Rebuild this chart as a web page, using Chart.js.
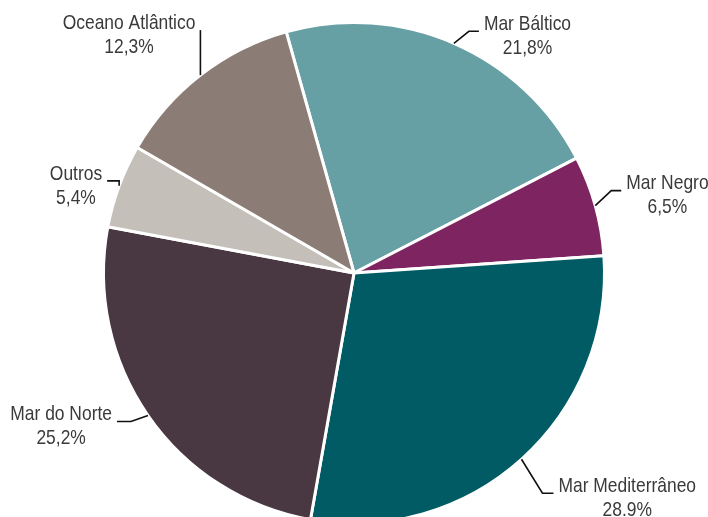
<!DOCTYPE html>
<html>
<head>
<meta charset="utf-8">
<script src="https://cdn.jsdelivr.net/npm/chart.js@4/dist/chart.umd.min.js"></script>
<style>
  html, body { margin: 0; padding: 0; background: #ffffff; overflow: hidden; }
  #wrap { width: 708px; height: 517px; overflow: hidden; }
  canvas { display: block; }
</style>
</head>
<body>
<div id="wrap"><canvas id="pie" width="708" height="540"></canvas></div>
<script>
// Share by sea basin (%), clockwise from the top
const categories = ['Mar Báltico', 'Mar Negro', 'Mar Mediterrâneo', 'Mar do Norte', 'Outros', 'Oceano Atlântico'];
const shares = [21.8, 6.5, 28.9, 25.2, 5.4, 12.3];
const decimalMarks = [',', ',', '.', ',', ',', ','];

const sliceColors = ['#669fa4', '#7e2561', '#005b64', '#493842', '#c5bfba', '#8b7d75'];

// Leader line geometry for each label: elbow offset from the slice's outer edge,
// horizontal run after the elbow, and which side the text sits on.
const leaders = [
  { elbow: [15, -12], run: 10, side: 'right' },
  { elbow: [16, -15], run: 10, side: 'right' },
  { elbow: [21, 34], run: 11, side: 'right' },
  { elbow: [-17, 6], run: -14, side: 'left' },
  { elbow: [0, -5], run: -12, side: 'left' },
  { elbow: [0, -45], run: 0, side: 'left' }
];

// Condensed label face: Arial-metric sans squeezed horizontally
const FONT = '21px "Liberation Sans", Arial, sans-serif';
const SQUEEZE = 0.83;

const leaderLabels = {
  id: 'leaderLabels',
  afterDatasetsDraw(chart) {
    const ctx = chart.ctx;
    const arcs = chart.getDatasetMeta(0).data;
    ctx.save();
    ctx.font = FONT;
    arcs.forEach((arc, i) => {
      const p = arc.getProps(['x', 'y', 'startAngle', 'endAngle', 'outerRadius'], true);
      const mid = (p.startAngle + p.endAngle) / 2;
      const sx = p.x + Math.cos(mid) * p.outerRadius;
      const sy = p.y + Math.sin(mid) * p.outerRadius;
      const L = leaders[i];
      const ex = sx + L.elbow[0], ey = sy + L.elbow[1];
      const hx = ex + L.run;

      ctx.strokeStyle = '#111111';
      ctx.lineWidth = 1.6;
      ctx.beginPath();
      ctx.moveTo(sx, sy);
      ctx.lineTo(ex, ey);
      ctx.lineTo(hx, ey);
      ctx.stroke();

      const line1 = categories[i];
      const line2 = shares[i].toFixed(1).replace('.', decimalMarks[i]) + '%';
      const w = Math.max(ctx.measureText(line1).width, ctx.measureText(line2).width) * SQUEEZE;
      const gap = 5;
      const cx = L.side === 'right' ? hx + gap + w / 2 : hx - gap - w / 2;
      const cy = ey - 7;

      ctx.save();
      ctx.translate(cx, cy);
      ctx.scale(SQUEEZE, 1);
      ctx.fillStyle = '#3a3a3a';
      ctx.textAlign = 'center';
      ctx.textBaseline = 'middle';
      ctx.fillText(line1, 0, 0);
      ctx.fillText(line2, 0, 24);
      ctx.restore();
    });
    ctx.restore();
  }
};

new Chart(document.getElementById('pie'), {
  type: 'pie',
  data: {
    labels: categories,
    datasets: [{
      data: shares,
      backgroundColor: sliceColors,
      borderColor: '#ffffff',
      borderWidth: 3
    }]
  },
  options: {
    responsive: false,
    animation: false,
    devicePixelRatio: 1,
    rotation: -15.7,
    layout: { padding: { left: 102, right: 102, top: 21, bottom: 15 } },
    plugins: {
      legend: { display: false },
      tooltip: { enabled: false }
    }
  },
  plugins: [leaderLabels]
});
</script>
</body>
</html>
